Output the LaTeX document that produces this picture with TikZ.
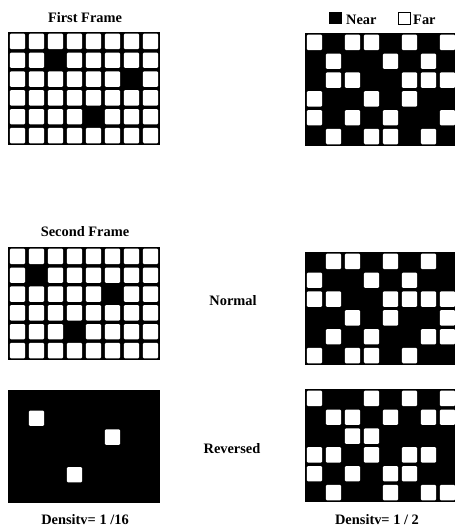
\documentclass[tikz,border=0pt]{standalone}
\usepackage{fontspec}
\setmainfont{Liberation Serif}
\newcommand\drawdotgrid[3]{%
  \fill[black] (#1,#2) rectangle ++(152,113);
  \foreach \rowlist [count=\r from 0] in {#3} {
    \foreach \v [count=\c from 0] in \rowlist {
      \ifnum\v=1
        \fill[white,rounded corners=1.2] ({#1+\c*19+1.8},{#2+\r*18.83+1.7}) rectangle ++(15.4,15.4);
      \fi
    }
  }%
}
\begin{document}
\begin{tikzpicture}[x=1pt,y=-1pt,
  lbl/.style={font=\fontsize{14.4}{17}\selectfont\bfseries, anchor=base, inner sep=0pt}]
\useasboundingbox (0,0) rectangle (455,530);
\fill[white] (0,0) rectangle (455,530);

% left column
\drawdotgrid{8}{32}{{1,1,1,1,1,1,1,1},{1,1,0,1,1,1,1,1},{1,1,1,1,1,1,0,1},{1,1,1,1,1,1,1,1},{1,1,1,1,0,1,1,1},{1,1,1,1,1,1,1,1}}
\drawdotgrid{8}{247}{{1,1,1,1,1,1,1,1},{1,0,1,1,1,1,1,1},{1,1,1,1,1,0,1,1},{1,1,1,1,1,1,1,1},{1,1,1,0,1,1,1,1},{1,1,1,1,1,1,1,1}}
\drawdotgrid{8}{390}{{0,0,0,0,0,0,0,0},{0,1,0,0,0,0,0,0},{0,0,0,0,0,1,0,0},{0,0,0,0,0,0,0,0},{0,0,0,1,0,0,0,0},{0,0,0,0,0,0,0,0}}

% right column
\drawdotgrid{305}{33}{{1,0,1,1,0,1,0,1},{0,1,0,0,1,0,1,0},{0,1,1,0,0,1,1,1},{1,0,0,1,0,1,0,0},{1,0,1,0,1,0,0,1},{0,1,0,1,1,0,1,0}}
\drawdotgrid{305}{252}{{0,1,1,0,1,0,1,0},{1,0,0,1,0,1,0,0},{1,1,0,0,1,1,1,1},{0,0,1,0,1,0,0,1},{0,1,0,1,0,0,1,1},{1,0,1,1,0,1,0,0}}
\drawdotgrid{305}{389}{{1,0,0,1,0,1,0,1},{0,1,1,0,1,0,1,1},{0,0,1,1,0,0,0,0},{1,1,0,1,0,1,1,0},{1,0,1,0,1,1,0,0},{0,1,0,0,1,0,1,1}}

% labels
\node[lbl] (first) at (85,22) {First Frame};
\node[lbl] (second) at (85,236) {Second Frame};
\node[lbl] (normal) at (233,305) {Normal};
\node[lbl] (reversed) at (232,453) {Reversed};
\node[lbl] (densl) at (85,524) {Densitv= 1 /16};
\node[lbl] (densr) at (377,524) {Densitv= 1 / 2};

% legend
\fill[black] (329,12) rectangle (342,24);
\node[lbl, anchor=base west] (near) at (346,24) {Near};
\draw[black, line width=0.8] (398.5,12.5) rectangle (410,24);
\node[lbl, anchor=base west] (far) at (413,24) {Far};
\end{tikzpicture}
\end{document}
